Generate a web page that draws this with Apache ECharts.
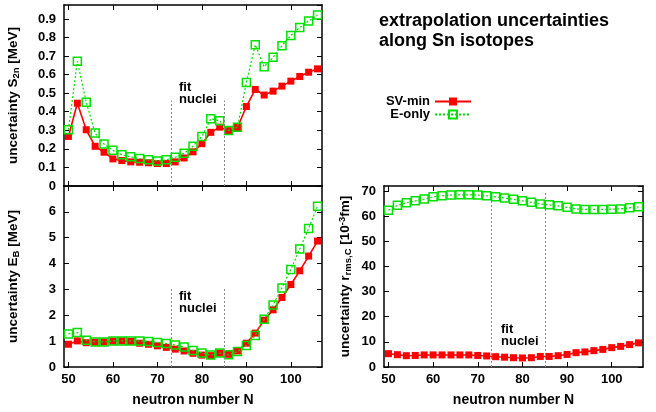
<!DOCTYPE html>
<html>
<head>
<meta charset="utf-8">
<script src="https://cdn.jsdelivr.net/npm/echarts@6/dist/echarts.min.js"></script>
<style>
html, body { margin: 0; padding: 0; background: #fff; }
#chart { width: 656px; height: 412px; }
</style>
</head>
<body>
<div id="chart"></div>
<script>
// neutron numbers of the Sn isotopes
const neutronN = [50, 52, 54, 56, 58, 60, 62, 64, 66, 68, 70, 72, 74, 76, 78,
                  80, 82, 84, 86, 88, 90, 92, 94, 96, 98, 100, 102, 104, 106];

// uncertainty of S2n [MeV]
const s2nSvMin = [0.267, 0.446, 0.303, 0.214, 0.182, 0.146, 0.137, 0.130, 0.128, 0.125,
                  0.121, 0.121, 0.130, 0.151, 0.184, 0.228, 0.289, 0.317, 0.298, 0.315,
                  0.428, 0.520, 0.490, 0.511, 0.538, 0.565, 0.590, 0.613, 0.631];
const s2nEOnly = [0.303, 0.672, 0.451, 0.285, 0.226, 0.192, 0.168, 0.157, 0.148, 0.141,
                  0.135, 0.141, 0.155, 0.176, 0.214, 0.267, 0.362, 0.351, 0.299, 0.317,
                  0.558, 0.761, 0.642, 0.693, 0.756, 0.811, 0.854, 0.889, 0.921];

// uncertainty of E_B [MeV]
const ebSvMin = [0.88, 1.01, 0.94, 0.96, 0.97, 1.00, 1.01, 0.99, 0.92, 0.88,
                 0.82, 0.76, 0.69, 0.62, 0.53, 0.46, 0.44, 0.54, 0.49, 0.62,
                 0.92, 1.31, 1.81, 2.21, 2.69, 3.19, 3.72, 4.29, 4.87];
const ebEOnly = [1.28, 1.33, 1.03, 0.97, 0.97, 1.01, 1.01, 1.01, 1.01, 0.99,
                 0.95, 0.91, 0.85, 0.77, 0.64, 0.54, 0.46, 0.54, 0.47, 0.60,
                 0.83, 1.22, 1.85, 2.40, 3.06, 3.77, 4.56, 5.36, 6.22];

// uncertainty of r_rms,C [1e-3 fm]
const rmsSvMin = [5.3, 4.9, 4.5, 4.6, 4.8, 4.8, 4.8, 4.8, 4.8, 4.8,
                  4.6, 4.4, 4.1, 3.9, 3.7, 3.6, 3.7, 4.2, 4.2, 4.5,
                  5.0, 5.7, 6.0, 6.5, 7.0, 7.7, 8.2, 8.9, 9.6];
const rmsEOnly = [62.4, 64.3, 65.3, 66.1, 66.8, 67.7, 68.1, 68.4, 68.5, 68.5,
                  68.4, 68.1, 67.7, 67.2, 66.7, 66.1, 65.5, 64.8, 64.5, 64.1,
                  63.5, 62.9, 62.7, 62.7, 62.7, 62.8, 62.9, 63.3, 63.7];

const xTicks = [50, 60, 70, 80, 90, 100];
const fitRange = [73, 85];
const fitLineTop = [0.46, 3.05, 70];

const red = '#ff0000';
const green = '#00e000';
const font = 'Liberation Sans';

const chart = echarts.init(document.getElementById('chart'));

const axisLine = { onZero: false, lineStyle: { color: '#000', width: 1.5 } };
const tickStyle = { inside: true, length: 5, lineStyle: { color: '#000', width: 1 } };
const labelStyle = { color: '#000', fontSize: 13, fontWeight: 'bold', fontFamily: font };

const richName = {
    a: { fontSize: 13.5, fontWeight: 'bold', fontFamily: font, color: '#000', lineHeight: 16 },
    s: { fontSize: 9.5, fontWeight: 'bold', fontFamily: font, color: '#000', lineHeight: 8, verticalAlign: 'bottom' },
    p: { fontSize: 9.5, fontWeight: 'bold', fontFamily: font, color: '#000', lineHeight: 8, verticalAlign: 'top' }
};

function xAxisFor(grid, pos, withLabels) {
    return {
        type: 'value', gridIndex: grid, position: pos, min: 49, max: 107,
        axisLine: axisLine,
        axisTick: Object.assign({ customValues: xTicks }, tickStyle),
        axisLabel: Object.assign({ show: withLabels, customValues: xTicks, margin: 6 }, labelStyle),
        splitLine: { show: false },
        name: withLabels ? 'neutron number N' : '',
        nameLocation: 'middle', nameGap: 26,
        nameTextStyle: { fontSize: 14, fontWeight: 'bold', fontFamily: font, color: '#000' }
    };
}

function yAxisFor(grid, pos, max, interval, name, gap, fmt) {
    return {
        type: 'value', gridIndex: grid, position: pos, min: 0, max: max, interval: interval,
        axisLine: axisLine,
        axisTick: tickStyle,
        axisLabel: Object.assign({ show: pos === 'left', showMaxLabel: false, margin: 8, formatter: fmt }, labelStyle),
        splitLine: { show: false },
        name: pos === 'left' ? name : '',
        nameLocation: 'middle', nameGap: gap, nameRotate: 90,
        nameTextStyle: { rich: richName }
    };
}

const fmt1 = v => String(+v.toFixed(1));
const fmt0 = v => String(Math.round(v));

function pairs(ys) { return neutronN.map((n, i) => [n, ys[i]]); }

function fitLines(k) {
    return {
        silent: true, symbol: 'none', label: { show: false },
        lineStyle: { color: '#888', type: [2, 2], width: 1 },
        data: fitRange.map(x => [{ coord: [x, 0] }, { coord: [x, fitLineTop[k]] }])
    };
}

function svMin(k, ys) {
    return {
        name: 'SV-min', type: 'line', xAxisIndex: 2 * k, yAxisIndex: 2 * k,
        data: pairs(ys), symbol: 'rect', symbolSize: 7, z: 3,
        lineStyle: { color: red, width: 1.6 },
        itemStyle: { color: red },
        markLine: fitLines(k)
    };
}

function eOnly(k, ys) {
    return {
        name: 'E-only', type: 'line', xAxisIndex: 2 * k, yAxisIndex: 2 * k,
        data: pairs(ys), symbol: 'rect', symbolSize: 8, z: 4,
        lineStyle: { color: green, width: 1.2, type: [2, 2] },
        itemStyle: { color: 'rgba(0,0,0,0)', borderColor: green, borderWidth: 1.5 }
    };
}

const fitText = (x, y) => ({
    type: 'text', left: x, top: y, silent: true,
    style: { text: 'fit\nnuclei', font: 'bold 13px ' + font, fill: '#000', lineHeight: 12 }
});

const option = {
    animation: false,
    backgroundColor: '#fff',
    grid: [
        { left: 64, top: 5, width: 258, height: 181 },
        { left: 64, top: 186, width: 258, height: 181 },
        { left: 384, top: 186, width: 259, height: 181 }
    ],
    xAxis: [
        xAxisFor(0, 'bottom', false), xAxisFor(0, 'top', false),
        xAxisFor(1, 'bottom', true), xAxisFor(1, 'top', false),
        xAxisFor(2, 'bottom', true), xAxisFor(2, 'top', false)
    ],
    yAxis: [
        yAxisFor(0, 'left', 0.975, 0.1, '{a|uncertainty S}{s|2n}{a| [MeV]}', 43, fmt1),
        yAxisFor(0, 'right', 0.975, 0.1, '', 0, fmt1),
        yAxisFor(1, 'left', 7, 1, '{a|uncertainty E}{s|B}{a| [MeV]}', 43, fmt0),
        yAxisFor(1, 'right', 7, 1, '', 0, fmt0),
        yAxisFor(2, 'left', 72, 10, '{a|uncertainty r}{s|rms,C}{a| [10}{p|-3}{a|fm]}', 31, fmt0),
        yAxisFor(2, 'right', 72, 10, '', 0, fmt0)
    ],
    legend: {
        data: ['SV-min', 'E-only'],
        orient: 'vertical', align: 'right',
        right: 179, top: 90,
        itemWidth: 36, itemHeight: 10, itemGap: 0,
        textStyle: { fontSize: 13, fontWeight: 'bold', fontFamily: font, color: '#000', lineHeight: 13 }
    },
    graphic: [
        {
            type: 'text', left: 379, top: 11, silent: true,
            style: { text: 'extrapolation uncertainties\nalong Sn isotopes', font: 'bold 18px ' + font, fill: '#000', lineHeight: 20 }
        },
        fitText(179, 81),
        fitText(179, 290),
        fitText(501, 323)
    ],
    series: [
        svMin(0, s2nSvMin), eOnly(0, s2nEOnly),
        svMin(1, ebSvMin), eOnly(1, ebEOnly),
        svMin(2, rmsSvMin), eOnly(2, rmsEOnly)
    ]
};

chart.setOption(option);
</script>
</body>
</html>
